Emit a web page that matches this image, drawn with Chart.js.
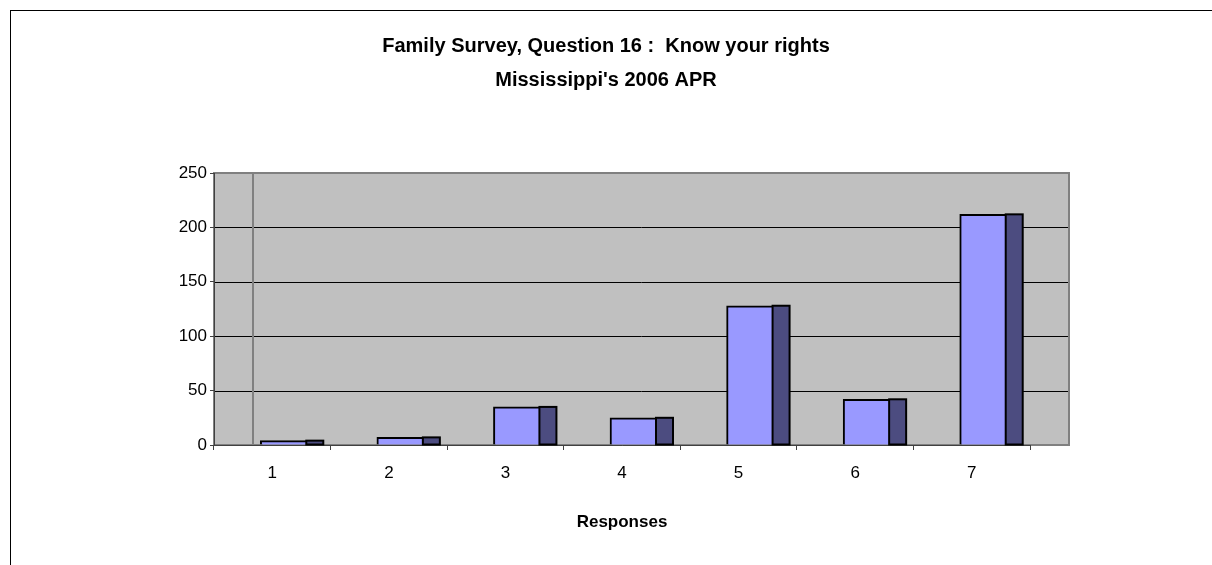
<!DOCTYPE html>
<html>
<head>
<meta charset="utf-8">
<script src="https://cdn.jsdelivr.net/npm/chart.js@4/dist/chart.umd.min.js"></script>
<style>
  body { margin: 0; width: 1212px; height: 565px; overflow: hidden; background: #fff; position: relative; }
  #frame { position: absolute; left: 10px; top: 10px; width: 1400px; height: 800px; border: 1px solid #000; }
  #wrap { position: absolute; left: 0; top: 0; width: 1212px; height: 565px; }
</style>
</head>
<body>
<div id="frame"></div>
<div id="wrap"><canvas id="chart" width="1212" height="565"></canvas></div>
<script>
// données
const categories = ['1', '2', '3', '4', '5', '6', '7'];
const responses = [4, 7, 35, 25, 128, 42, 212];
const yTicks = [0, 50, 100, 150, 200, 250];
const titleLines = ["Family Survey, Question 16 :  Know your rights", "Mississippi's 2006 APR"];
const xTitle = 'Responses';

const FONT = "'Liberation Sans', Arial, sans-serif";
const depth = 39;   // décalage "3D" du mur du fond
const sideW = 17;   // largeur de la face latérale des barres

// fond gris + quadrillage qui déborde vers la droite (effet 3D)
const wallPlugin = {
  id: 'wall',
  beforeDraw(chart) {
    const { ctx, chartArea: a, scales: { y } } = chart;
    ctx.save();
    ctx.fillStyle = '#c0c0c0';
    ctx.fillRect(a.left, a.top, a.right - a.left + depth, a.bottom - a.top);
    ctx.strokeStyle = '#000';
    ctx.lineWidth = 1;
    yTicks.forEach(v => {
      if (v === 0 || v === yTicks[yTicks.length - 1]) return;
      const py = Math.round(y.getPixelForValue(v)) + 0.5;
      ctx.beginPath();
      ctx.moveTo(a.left, py);
      ctx.lineTo(a.right + depth, py);
      ctx.stroke();
    });
    ctx.strokeStyle = '#808080';
    ctx.lineWidth = 2;
    ctx.strokeRect(a.left, a.top, a.right - a.left + depth, a.bottom - a.top);
    ctx.beginPath();
    ctx.moveTo(a.left + depth, a.top);
    ctx.lineTo(a.left + depth, a.bottom);
    ctx.stroke();
    ctx.restore();
  },
  beforeDatasetsDraw(chart) {
    chart.ctx.save();
    chart.ctx.translate(depth / 2, 0);
  },
  afterDatasetsDraw(chart) {
    const ctx = chart.ctx;
    chart.getDatasetMeta(0).data.forEach(bar => {
      const p = bar.getProps(['x', 'y', 'base', 'width']);
      const right = p.x + p.width / 2;
      ctx.fillStyle = '#4c4c80';
      ctx.strokeStyle = '#000';
      ctx.lineWidth = 2;
      ctx.fillRect(right - sideW, p.y, sideW, p.base - p.y);
      ctx.strokeRect(right - sideW, p.y, sideW, p.base - p.y);
    });
    ctx.restore();
  }
};

new Chart(document.getElementById('chart'), {
  type: 'bar',
  data: {
    labels: categories,
    datasets: [{
      data: responses,
      backgroundColor: '#9999ff',
      borderColor: '#000',
      borderWidth: 2,
      barThickness: 63
    }]
  },
  options: {
    responsive: false,
    animation: false,
    layout: { padding: { left: 0, right: 0, top: 0, bottom: 32 } },
    plugins: {
      legend: { display: false },
      tooltip: { enabled: false },
      title: {
        display: true,
        text: titleLines,
        color: '#000',
        font: { family: FONT, size: 20, weight: 'bold', lineHeight: '34px' },
        padding: { top: 29, bottom: 76 }
      }
    },
    scales: {
      x: {
        grid: { offset: true, drawOnChartArea: false, color: '#404040', tickLength: 5 },
        border: { color: '#404040', width: 1 },
        ticks: { color: '#000', font: { family: FONT, size: 17 }, padding: 13 },
        title: { display: true, text: xTitle, color: '#000', font: { family: FONT, size: 17, weight: 'bold' }, padding: 0 },
        afterFit(s) { s.height = 88; }
      },
      y: {
        min: 0,
        max: 250,
        afterBuildTicks(s) { s.ticks = yTicks.map(v => ({ value: v })); },
        grid: { drawOnChartArea: false, color: '#404040', tickLength: 4 },
        border: { color: '#404040', width: 1 },
        ticks: { color: '#000', font: { family: FONT, size: 17 }, padding: 3 },
        afterFit(s) { s.width = 214; }
      },
      // axe vide à droite : réserve la place du mur 3D et de la marge
      yRight: {
        position: 'right',
        display: true,
        grid: { display: false },
        border: { display: false },
        ticks: { display: false },
        afterFit(s) { s.width = 182; }
      }
    }
  },
  plugins: [wallPlugin]
});
</script>
</body>
</html>
